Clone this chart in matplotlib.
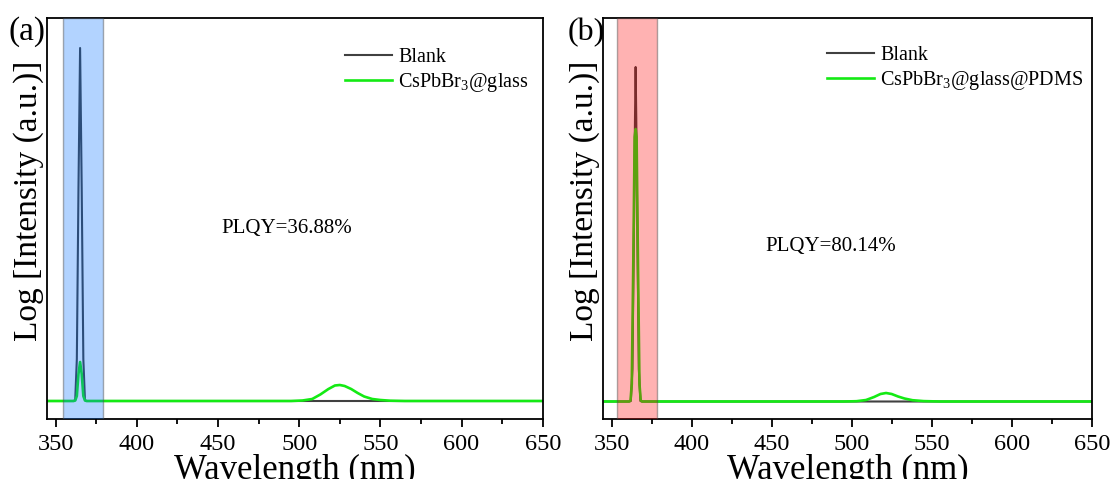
import matplotlib
matplotlib.use("Agg")
import matplotlib.pyplot as plt
from matplotlib.ticker import MultipleLocator

plt.rcParams['font.family'] = ['Liberation Serif', 'DejaVu Serif']
plt.rcParams['mathtext.fontset'] = 'custom'
plt.rcParams['mathtext.rm'] = 'Liberation Serif'

# ---- data (arbitrary log-intensity units) ----
# Panel (a)
wl_blank_a = [344.8, 361, 362, 363, 364, 365, 366, 367, 368, 369, 650]
int_blank_a = [18, 18, 19, 60, 230, 371, 230, 60, 19, 18, 18]

wl_glass_a = [344.8, 361, 362, 363, 364, 365, 366, 367, 368, 369,
              495, 502, 508, 513, 518, 522, 525, 528, 532, 536, 540, 545, 550, 556, 565, 650]
int_glass_a = [18, 18, 18.5, 23, 45, 57, 45, 23, 18.5, 18,
               18, 18.5, 20, 24.5, 30, 33.5, 34, 33, 30, 26, 22.5, 20, 19, 18.3, 18, 18]

# Panel (b)
wl_blank_b = [344.8, 361, 362, 363, 364, 364.6, 365, 365.4, 366, 367, 368, 369, 650]
int_blank_b = [17.5, 17.5, 18, 50, 200, 300, 352, 300, 200, 50, 18, 17.5, 17.5]

wl_pdms_b = [344.8, 361, 361.8, 362.6, 363.5, 364.4, 365, 365.6, 366.5, 367.4, 368.2, 369,
             495, 503, 509, 514, 518, 521.5, 525, 529, 533, 538, 545, 555, 650]
int_pdms_b = [17.5, 17.5, 18.5, 35, 150, 282, 290, 282, 150, 35, 18.5, 17.5,
              17.5, 17.8, 19, 22, 25, 26, 25, 22.5, 20.5, 18.8, 17.9, 17.5, 17.5]

shade_a = (354.3, 379.0)
shade_b = (353.5, 378.1)
labels_a = ["Blank", "CsPbBr$_\\mathregular{3}$@glass"]
labels_b = ["Blank", "CsPbBr$_\\mathregular{3}$@glass@PDMS"]
plqy_a = "PLQY=36.88%"
plqy_b = "PLQY=80.14%"
xticks = [350, 400, 450, 500, 550, 600, 650]

BLANK_C = '#404040'
GREEN_C = '#14ea14'

fig = plt.figure(figsize=(11.13, 4.79), dpi=100)
ax_a = fig.add_axes([47.3/1113, 60/479, 495.4/1113, 401/479])
ax_b = fig.add_axes([603.3/1113, 60/479, 488.4/1113, 401/479])

def style(ax):
    ax.set_xlim(344.8, 650)
    ax.set_ylim(0, 401)
    ax.set_xticks(xticks)
    ax.xaxis.set_minor_locator(MultipleLocator(25))
    ax.set_yticks([])
    ax.tick_params(axis='x', which='major', direction='out', length=6, width=1.3,
                   labelsize=17.5, pad=5)
    ax.tick_params(axis='x', which='minor', direction='out', length=3.5, width=1.3)
    for s in ax.spines.values():
        s.set_linewidth(1.3)
    ax.set_xlabel("Wavelength (nm)", fontsize=25, labelpad=-1)
    ax.set_ylabel("Log [Intensity (a.u.)]", fontsize=24)

# Panel (a)
la1, = ax_a.plot(wl_blank_a, int_blank_a, color=BLANK_C, lw=1.5, label=labels_a[0])
la2, = ax_a.plot(wl_glass_a, int_glass_a, color=GREEN_C, lw=1.9, label=labels_a[1])
ax_a.axvspan(*shade_a, facecolor=(0.0, 0.43, 1.0, 0.30), edgecolor=(0.3, 0.3, 0.3, 0.45), lw=1.0, zorder=3)
style(ax_a)
ax_a.yaxis.set_label_coords(-0.006, 0.544)
ax_a.legend(handles=[la1, la2], loc='upper left', bbox_to_anchor=(0.601, 0.925),
            frameon=False, fontsize=14.5, borderpad=0, handlelength=2.35,
            handletextpad=0.3, labelspacing=0.2, borderaxespad=0)
ax_a.text(452, 191, plqy_a, fontsize=15, va='center', ha='left')

# Panel (b)
lb1, = ax_b.plot(wl_blank_b, int_blank_b, color=BLANK_C, lw=1.5, label=labels_b[0])
lb2, = ax_b.plot(wl_pdms_b, int_pdms_b, color=GREEN_C, lw=1.9, label=labels_b[1])
ax_b.axvspan(*shade_b, facecolor=(1.0, 0.0, 0.0, 0.30), edgecolor=(0.3, 0.3, 0.3, 0.45), lw=1.0, zorder=3)
style(ax_b)
ax_b.yaxis.set_label_coords(-0.007, 0.544)
ax_b.legend(handles=[lb1, lb2], loc='upper left', bbox_to_anchor=(0.458, 0.93),
            frameon=False, fontsize=14.5, borderpad=0, handlelength=2.35,
            handletextpad=0.3, labelspacing=0.2, borderaxespad=0)
ax_b.text(445.9, 173, plqy_b, fontsize=15, va='center', ha='left')

fig.text(9/1113, 1 - 32/479, "(a)", fontsize=24, ha='left', va='center')
fig.text(568/1113, 1 - 33/479, "(b)", fontsize=23, ha='left', va='center')

fig.savefig("out.png", dpi=100)
